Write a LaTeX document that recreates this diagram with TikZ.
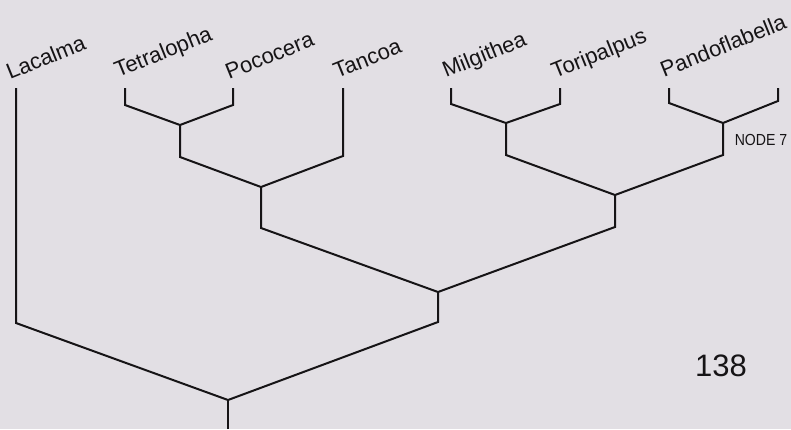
\documentclass[tikz,border=0pt]{standalone}
\usepackage{fontspec}
\setmainfont{Liberation Sans}
\definecolor{bg}{RGB}{226,223,228}
\definecolor{ink}{RGB}{22,20,22}
\begin{document}
\begin{tikzpicture}[x=1pt,y=-1pt,
  branch/.style={draw=ink,line width=2pt,line join=miter},
  taxon/.style={rotate=22,anchor=base west,inner sep=0pt,text=ink,font=\fontsize{22}{22}\selectfont}]
\path[fill=bg,use as bounding box] (0,0) rectangle (791,429);
% coordinates
\coordinate (bot) at (228,429);
\coordinate (R) at (228,400);
\coordinate (Ac) at (16,323);  \coordinate (At) at (16,88);
\coordinate (Bc) at (438,322); \coordinate (B) at (438,292);
\coordinate (Cc) at (261,228); \coordinate (C) at (261,187);
\coordinate (Dc) at (615,227); \coordinate (D) at (615,195);
\coordinate (Ec) at (180,157); \coordinate (E) at (180,125);
\coordinate (Tac) at (343,156); \coordinate (Tat) at (343,88);
\coordinate (Tec) at (125,105); \coordinate (Tet) at (125,88);
\coordinate (Poc) at (233,105); \coordinate (Pot) at (233,88);
\coordinate (Fc) at (506,155); \coordinate (F) at (506,123);
\coordinate (Nc) at (723,155); \coordinate (N) at (723,123);
\coordinate (Mic) at (451,104); \coordinate (Mit) at (451,88);
\coordinate (Toc) at (560,104); \coordinate (Tot) at (560,88);
\coordinate (Pac) at (669,103); \coordinate (Pat) at (669,88);
\coordinate (Xc) at (778,101); \coordinate (Xt) at (778,88);
% branches
\draw[branch] (bot) -- (R);
\draw[branch] (At) -- (Ac) -- (R) -- (Bc) -- (B);
\draw[branch] (C) -- (Cc) -- (B) -- (Dc) -- (D);
\draw[branch] (E) -- (Ec) -- (C) -- (Tac) -- (Tat);
\draw[branch] (Tet) -- (Tec) -- (E) -- (Poc) -- (Pot);
\draw[branch] (F) -- (Fc) -- (D) -- (Nc) -- (N);
\draw[branch] (Mit) -- (Mic) -- (F) -- (Toc) -- (Tot);
\draw[branch] (Pat) -- (Pac) -- (N) -- (Xc) -- (Xt);
% labels
\node[taxon] (lac) at (10,80) {Lacalma};
\node[taxon] (tet) at (118,78) {Tetralopha};
\node[taxon] (poc) at (229,80) {Pococera};
\node[taxon] (tan) at (337,79) {Tancoa};
\node[taxon] (mil) at (446,78) {Milgithea};
\node[taxon] (tor) at (555,79) {Toripalpus};
\node[taxon] (pan) at (664,78) {Pandoflabella};
\node[text=ink,inner sep=0pt,font=\fontsize{16}{16}\selectfont] (n7) at (761,140) {\scalebox{0.88}[1]{NODE 7}};
\node[text=ink,inner sep=0pt,font=\fontsize{31}{31}\selectfont] (num) at (721,366) {138};
\end{tikzpicture}
\end{document}
